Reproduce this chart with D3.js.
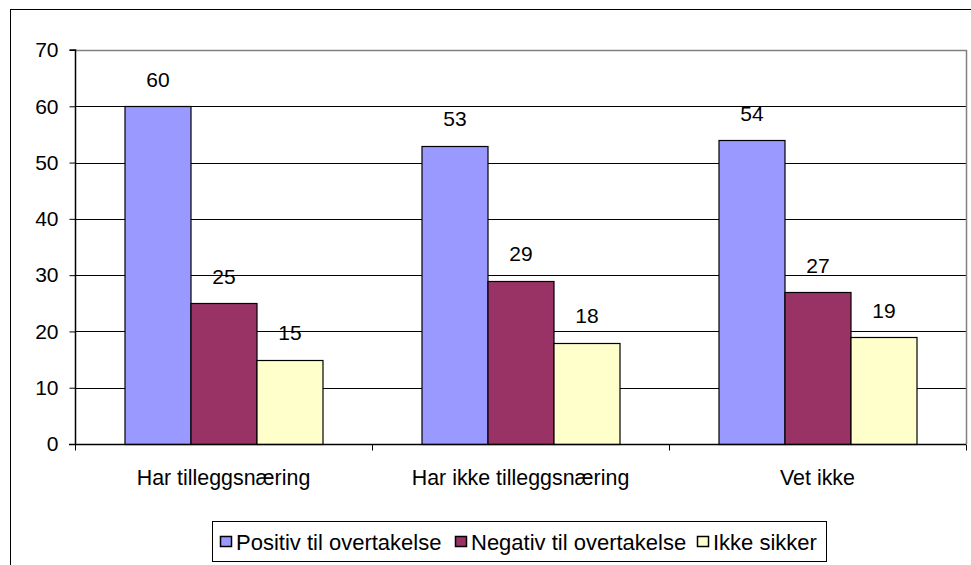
<!DOCTYPE html>
<html>
<head>
<meta charset="utf-8">
<script src="https://cdn.jsdelivr.net/npm/d3@7"></script>
<style>
  html, body { margin: 0; padding: 0; background: #fff; }
  svg { display: block; }
  text { font-family: "Liberation Sans", Arial, sans-serif; fill: #000; }
</style>
</head>
<body>
<svg id="chart" width="971" height="565"></svg>
<script>
const categories = ["Har tilleggsnæring", "Har ikke tilleggsnæring", "Vet ikke"];
const seriesNames = ["Positiv til overtakelse", "Negativ til overtakelse", "Ikke sikker"];
const positiv = [60, 53, 54];
const negativ = [25, 29, 27];
const ikkeSikker = [15, 18, 19];
const yTicks = [0, 10, 20, 30, 40, 50, 60, 70];
const colors = ["#9999FF", "#993366", "#FFFFCC"];

(function () {
const FS = 21;
const seriesValues = [positiv, negativ, ikkeSikker];
const svg = d3.select("#chart");

// outer frame
svg.append("rect").attr("x", 10.5).attr("y", 9.5).attr("width", 980).attr("height", 600)
  .attr("fill", "none").attr("stroke", "#000").attr("stroke-width", 1);

const pLeft = 75, pRight = 966, pTop = 50, pBottom = 444;
const x0 = d3.scaleBand().domain(categories).range([pLeft, pRight]).paddingInner(0).paddingOuter(0);
const barW = 66;
const x1 = d3.scaleBand().domain(seriesNames).range([0, barW * 3]).padding(0);
const y = d3.scaleLinear().domain([0, 70]).range([pBottom, pTop]);

// gridlines
svg.append("g").selectAll("line").data(yTicks.filter(d => d > 0 && d < 70)).join("line")
  .attr("x1", pLeft).attr("x2", pRight)
  .attr("y1", d => Math.round(y(d)) + 0.5).attr("y2", d => Math.round(y(d)) + 0.5)
  .attr("stroke", "#000").attr("stroke-width", 1);

// plot area border top/right (gray)
svg.append("path")
  .attr("d", `M${pLeft},${Math.round(y(70)) + 0.5}H${pRight + 0.5}V${pBottom}`)
  .attr("fill", "none").attr("stroke", "#808080").attr("stroke-width", 1.5);

// bars
const groups = svg.append("g").selectAll("g").data(categories).join("g")
  .attr("transform", d => `translate(${x0(d) + (x0.bandwidth() - barW * 3) / 2},0)`);

groups.each(function(cat, ci) {
  const g = d3.select(this);
  seriesNames.forEach((s, si) => {
    const v = seriesValues[si][ci];
    g.append("rect")
      .attr("x", x1(s) + 0.5).attr("y", Math.round(y(v)) + 0.5)
      .attr("width", x1.bandwidth()).attr("height", Math.round(y(0)) - Math.round(y(v)))
      .attr("fill", colors[si]).attr("stroke", "#000").attr("stroke-width", 1.2);
    g.append("text")
      .attr("x", x1(s) + x1.bandwidth() / 2 + 0.5).attr("y", y(v) - 19.5)
      .attr("text-anchor", "middle").attr("font-size", FS).text(v);
  });
});

// y axis
const yAxis = d3.axisLeft(y).tickValues(yTicks).tickSize(6).tickPadding(11).tickFormat(d3.format("d"));
const ya = svg.append("g").attr("transform", `translate(${pLeft + 0.5},0)`).call(yAxis);
ya.select(".domain").attr("stroke", "#000").attr("stroke-width", 1.5).attr("d", `M-6,${pTop}H0V${pBottom}`);
ya.selectAll(".tick line").attr("stroke", "#000");
ya.selectAll(".tick text").attr("font-size", FS).attr("font-family", "Liberation Sans, Arial, sans-serif").attr("fill", "#000");

// x axis
const xa = svg.append("g").attr("transform", `translate(0,${pBottom + 0.5})`);
xa.append("line").attr("x1", pLeft - 6).attr("x2", pRight).attr("stroke", "#000").attr("stroke-width", 1.5);
const tickXs = categories.map(c => x0(c)).concat([pRight]);
xa.selectAll(".xt").data(tickXs).join("line").attr("class", "xt")
  .attr("x1", d => Math.round(d) + 0.5).attr("x2", d => Math.round(d) + 0.5)
  .attr("y1", 0).attr("y2", 6).attr("stroke", "#000");
xa.selectAll(".xl").data(categories).join("text").attr("class", "xl")
  .attr("x", d => x0(d) + x0.bandwidth() / 2).attr("y", 40)
  .attr("text-anchor", "middle").attr("font-size", 21.4).text(d => d);

// legend
const lg = svg.append("g");
lg.append("rect").attr("x", 212.5).attr("y", 521.5).attr("width", 614).attr("height", 40)
  .attr("fill", "#fff").attr("stroke", "#000").attr("stroke-width", 1);
const labelStarts = [236, 471, 713];
seriesNames.forEach((s, i) => {
  const lx = labelStarts[i];
  lg.append("rect").attr("x", lx - 15.5).attr("y", 536.5).attr("width", 11).attr("height", 10)
    .attr("fill", colors[i]).attr("stroke", "#000").attr("stroke-width", 1.5);
  lg.append("text").attr("x", lx).attr("y", 549.5).attr("font-size", 22).text(s);
});
})();
</script>
</body>
</html>
